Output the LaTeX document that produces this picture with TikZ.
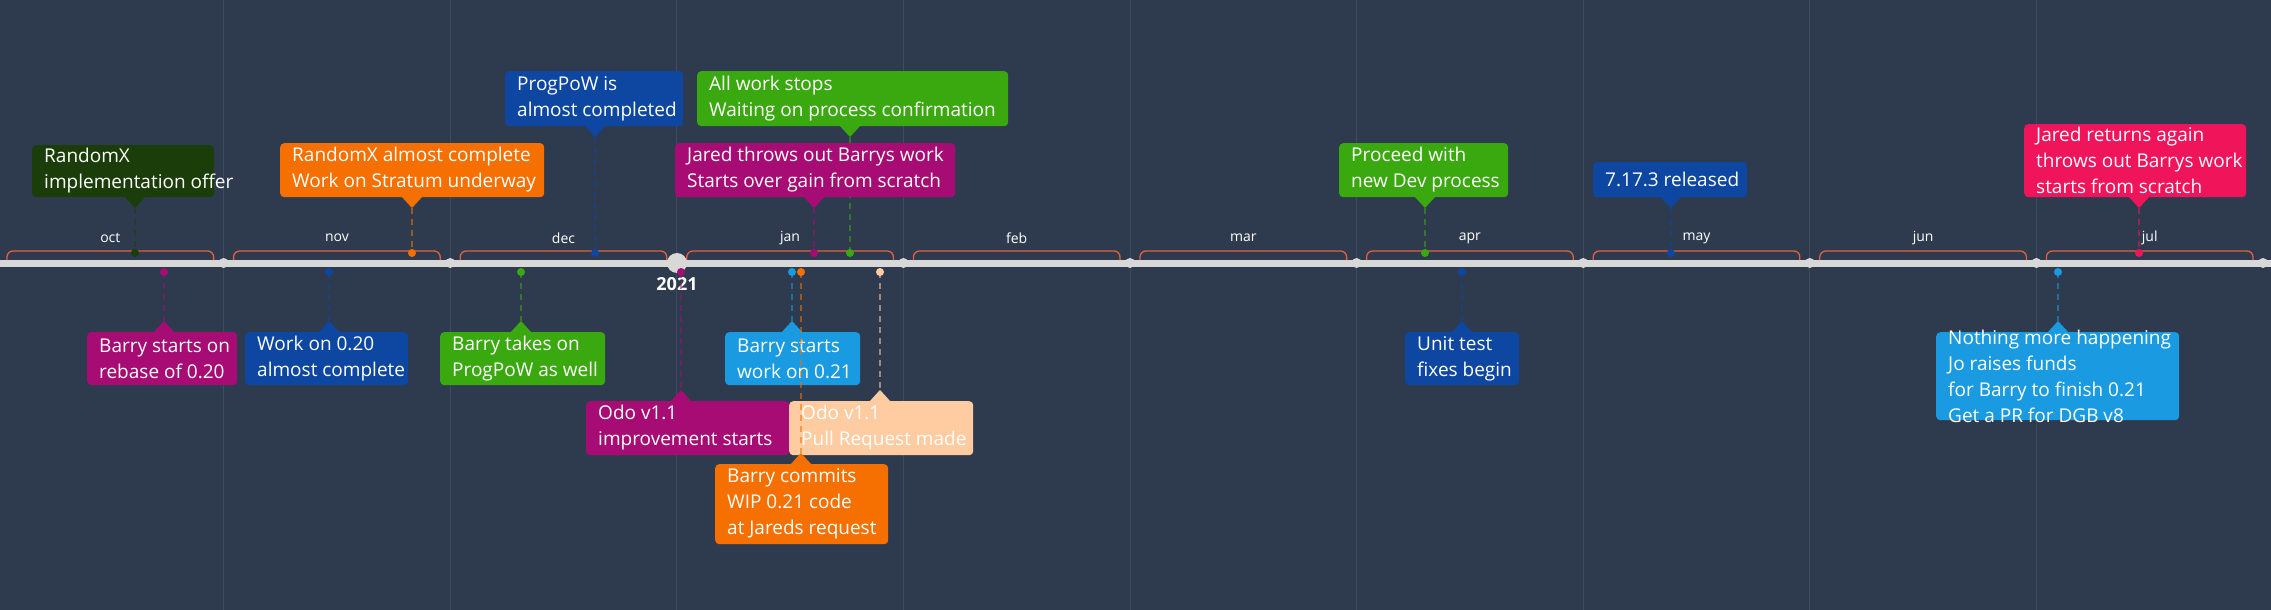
\documentclass[tikz,border=0pt]{standalone}
\usepackage{fontspec}
\setmainfont{Open Sans}
\begin{document}
\definecolor{bg}{RGB}{46,59,79}
\definecolor{grid}{RGB}{62,75,94}
\definecolor{axis}{RGB}{216,216,216}
\definecolor{brace}{RGB}{226,96,58}
\definecolor{dgreen}{RGB}{26,61,10}
\definecolor{orng}{RGB}{245,112,0}
\definecolor{dblue}{RGB}{13,71,161}
\definecolor{grn}{RGB}{58,168,15}
\definecolor{mag}{RGB}{167,12,116}
\definecolor{pink}{RGB}{240,20,90}
\definecolor{lblue}{RGB}{26,154,224}
\definecolor{peach}{RGB}{255,203,160}
\begin{tikzpicture}[x=1pt,y=-1pt,
  box/.style={fill=#1,rounded corners=4pt,inner sep=0pt,anchor=north west,font=\fontsize{19}{26}\selectfont,text=white},
  conn/.style={draw=#1,opacity=0.55,dashed,line width=2pt,dash pattern=on 6pt off 5pt},
  month/.style={font=\fontsize{14}{16}\selectfont,text=white}]
\fill[bg] (0,0) rectangle (2271,610);
\useasboundingbox (0,0) rectangle (2271,610);
\foreach \k in {1,...,9} \draw[grid,line width=1pt] ({-3+\k*226.6},0) -- ({-3+\k*226.6},610);
% axis
\draw[axis,line width=7pt] (0,263) -- (2271,263);
% months
\foreach \m [count=\i from 0] in {oct,nov,dec,jan,feb,mar,apr,may,jun,jul}{
  \pgfmathsetmacro\a{-3+\i*226.6+10}
  \pgfmathsetmacro\b{-3+(\i+1)*226.6-10}
  \draw[brace,line width=1.3pt,rounded corners=6pt] (\a,260) -- (\a,251) -- (\b,251) -- (\b,260);
  \node[month] (m\i) at ({(\a+\b)/2},238) {\m};
}
\foreach \k in {1,2,4,5,6,7,8,9,10} \fill[axis] ({-3+\k*226.6},263) circle (5);
\fill[axis] (677,263) circle (10);
\node[font=\bfseries\fontsize{18}{20}\selectfont,text=white] (y2021) at (677,284) {2021};
% top event: name color x1 y1 x2 y2 tip text
\newcommand\tev[8]{%
  \node[box=#2,minimum width={#5-#3},minimum height={#6-#4}] (#1) at (#3,#4) {};
  \node[anchor=west,inner sep=0pt,align=left,font=\fontsize{19}{26}\selectfont,text=white] (#1t) at ({#3+12},{(#4+#6)/2}) {#8};
  \fill[#2] ({#7-11},{#6-1}) -- ({#7+11},{#6-1}) -- (#7,{#6+11}) -- cycle;
  \coordinate (#1a) at (#7,{#6+11});
  \fill[#2] (#7,253) circle (4);
  \coordinate (#1d) at (#7,253);
  \draw[conn=#2] (#1a) -- (#1d);
}
\newcommand\bev[8]{%
  \node[box=#2,minimum width={#5-#3},minimum height={#6-#4}] (#1) at (#3,#4) {};
  \node[anchor=west,inner sep=0pt,align=left,font=\fontsize{19}{26}\selectfont,text=white] (#1t) at ({#3+12},{(#4+#6)/2}) {#8};
  \fill[#2] ({#7-11},{#4+1}) -- ({#7+11},{#4+1}) -- (#7,{#4-11}) -- cycle;
  \coordinate (#1a) at (#7,{#4-11});
  \fill[#2] (#7,272) circle (4);
  \coordinate (#1d) at (#7,272);
  \draw[conn=#2] (#1d) -- (#1a);
}
\tev{t1}{dgreen}{32}{145}{214}{197}{135}{RandomX\\implementation offer}
\tev{t2}{orng}{280}{143}{544}{197}{412}{RandomX almost complete\\Work on Stratum underway}
\tev{t3}{dblue}{505}{71}{683}{126}{595}{ProgPoW is\\almost completed}
\tev{t4}{grn}{697}{71}{1008}{126}{850}{All work stops\\Waiting on process confirmation}
\tev{t5}{mag}{675}{143}{955}{197}{814}{Jared throws out Barrys work\\Starts over gain from scratch}
\tev{t6}{grn}{1339}{143}{1508}{197}{1425}{Proceed with\\new Dev process}
\tev{t7}{dblue}{1593}{162}{1747}{197}{1671}{7.17.3 released}
\tev{t8}{pink}{2024}{124}{2246}{197}{2139}{Jared returns again\\throws out Barrys work\\starts from scratch}
\bev{b1}{mag}{87}{332}{237}{385}{164}{Barry starts on\\rebase of 0.20}
\bev{b2}{dblue}{245}{332}{408}{385}{329}{Work on 0.20\\almost complete}
\bev{b3}{grn}{440}{332}{605}{385}{521}{Barry takes on\\ProgPoW as well}
\bev{b4}{lblue}{725}{332}{860}{385}{792}{Barry starts\\work on 0.21}
\bev{b5}{mag}{586}{401}{789}{455}{681}{Odo v1.1\\improvement starts}
\bev{b6}{peach}{789}{401}{973}{455}{880}{Odo v1.1\\Pull Request made}
\bev{b7}{orng}{715}{464}{888}{544}{801}{Barry commits\\WIP 0.21 code\\at Jareds request}
\bev{b8}{dblue}{1405}{332}{1519}{385}{1462}{Unit test\\fixes begin}
\bev{b9}{lblue}{1936}{332}{2179}{420}{2058}{Nothing more happening\\Jo raises funds\\for Barry to finish 0.21\\Get a PR for DGB v8}
\end{tikzpicture}
\end{document}
